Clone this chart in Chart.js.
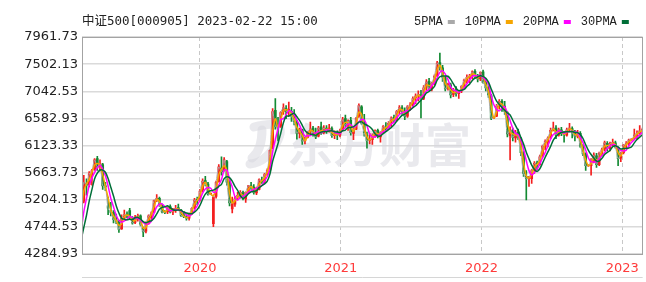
<!DOCTYPE html>
<html>
<head>
<meta charset="utf-8">
<script src="https://cdn.jsdelivr.net/npm/chart.js@4.4.1/dist/chart.umd.min.js"></script>
<style>
  html, body { margin: 0; padding: 0; background: #fff; }
</style>
</head>
<body>
<canvas id="kline" width="646" height="282"></canvas>
<script>
const title = '中证500[000905] 2023-02-22 15:00'
const maNames = ['5PMA', '10PMA', '20PMA', '30PMA']
const maDays = [5, 10, 20, 30]
const maColors = ['#a9a9a9', '#f5a500', '#ff00ff', '#006f38']
const yTicks = [4284.93, 4744.53, 5204.13, 5663.73, 6123.33, 6582.93, 7042.53, 7502.13, 7961.73]
const yearTicks = [2020, 2021, 2022, 2023]
const upColor = '#f41d1d'
const downColor = '#138a33'

// weekly candles [open, high, low, close], one row per week (Mon), first week 2019-01-07
const k2019 = [
  [4100,4200,4050,4180],[4180,4260,4150,4240],[4240,4280,4200,4250],[4250,4270,4100,4200],
  [4200,4210,4190,4200],[4220,4550,4210,4540],[4550,4780,4540,4760],[4900,5250,4880,5200],
  [5180,5620,5150,5500],[5480,5560,5280,5450],[5460,5680,5420,5640],[5620,5720,5450,5700],
  [5720,5900,5700,5880],[5900,5940,5700,5760],[5770,5880,5690,5820],[5800,5820,5380,5440],[5440,5500,5360,5420],
  [5100,5250,4950,5060],[5020,5160,4930,4990],[4990,5020,4810,4870],[4860,4960,4800,4840],
  [4840,4860,4650,4700],[4710,4950,4700,4890],[4900,5030,4880,4950],[4960,5000,4900,4940],
  [5020,5060,4880,4910],[4900,4920,4790,4810],[4820,4940,4800,4890],[4890,4960,4840,4930],[4930,4950,4760,4790],
  [4720,4740,4580,4660],[4670,4830,4640,4800],[4810,4950,4790,4930],[4900,5000,4860,4980],
  [4990,5200,4980,5190],[5200,5290,5170,5230],[5230,5250,5090,5120],[5110,5130,4980,5000],[5000,5020,4970,4990],
  [5000,5090,4970,5080],[5090,5120,4980,5000],[5000,5060,4950,5020],[5030,5110,4990,5060],
  [5070,5130,5020,5040],[5030,5040,4920,4940],[4950,5010,4900,4920],[4920,4950,4860,4890],
  [4890,4980,4860,4960],[4970,5070,4950,5060],[5070,5230,5050,5200],[5210,5250,5120,5190],[5200,5380,5180,5350]
]
const k2020 = [
  [5370,5560,5340,5520],[5530,5600,5440,5480],[5470,5500,5280,5300],[5300,5310,5290,5300],
  [4800,5260,4750,5250],[5260,5520,5230,5500],[5510,5800,5500,5760],[5740,5930,5620,5680],
  [5700,5920,5690,5880],[5850,5870,5450,5500],[5520,5560,5100,5150],[5050,5250,4980,5150],[5130,5260,5090,5220],
  [5250,5330,5200,5280],[5270,5360,5230,5330],[5320,5350,5200,5230],[5220,5340,5160,5330],
  [5340,5450,5320,5440],[5440,5500,5380,5420],[5420,5460,5300,5330],[5320,5420,5290,5400],
  [5380,5560,5370,5540],[5540,5590,5480,5520],[5520,5650,5490,5630],[5640,5730,5620,5700],[5710,6050,5700,6040],
  [6080,6750,6070,6700],[6720,6920,6400,6450],[6500,6600,6200,6420],[6450,6700,6430,6680],
  [6700,6830,6650,6760],[6750,6800,6580,6700],[6720,6860,6620,6720],[6700,6770,6530,6620],[6640,6730,6470,6530],
  [6520,6550,6230,6330],[6330,6420,6250,6390],[6390,6400,6140,6200],[6200,6260,6150,6210],
  [6260,6360,6250,6350],[6360,6520,6320,6400],[6420,6450,6280,6330],[6340,6420,6240,6270],
  [6280,6450,6270,6420],[6440,6520,6310,6330],[6340,6460,6320,6420],[6420,6460,6330,6380],[6400,6480,6350,6400],
  [6410,6440,6260,6290],[6290,6370,6240,6320],[6320,6370,6220,6300],[6300,6400,6270,6370]
]
const k2021 = [
  [6390,6600,6380,6560],[6580,6640,6430,6470],[6460,6560,6380,6540],[6550,6600,6300,6340],
  [6330,6420,6220,6380],[6400,6600,6390,6580],[6620,6830,6600,6800],[6780,6800,6480,6500],
  [6520,6650,6280,6340],[6300,6350,6080,6200],[6210,6330,6150,6230],[6220,6320,6140,6290],[6300,6390,6260,6370],
  [6380,6400,6250,6280],[6270,6360,6180,6340],[6350,6460,6330,6440],[6440,6510,6380,6420],
  [6420,6530,6390,6500],[6500,6610,6440,6590],[6600,6640,6520,6550],[6560,6720,6540,6700],[6700,6800,6660,6760],
  [6760,6800,6650,6700],[6700,6760,6560,6620],[6620,6800,6600,6780],[6790,6850,6720,6800],
  [6810,6950,6790,6920],[6930,7000,6830,6960],[6970,7050,6880,6990],[6980,7060,6590,6900],
  [6920,7140,6900,7100],[7110,7240,7060,7200],[7210,7260,7050,7080],[7080,7200,7050,7180],[7190,7320,7150,7300],
  [7310,7550,7290,7520],[7530,7690,7400,7450],[7440,7480,7210,7280],[7270,7300,7050,7080],
  [7100,7180,7060,7150],[7150,7180,6930,6980],[6990,7090,6950,7060],[7070,7120,6960,7010],
  [7000,7060,6920,7040],[7050,7140,7020,7120],[7130,7250,7100,7230],[7230,7320,7180,7280],[7270,7330,7190,7300],
  [7310,7390,7250,7370],[7380,7410,7260,7280],[7280,7330,7200,7250],[7250,7370,7220,7360]
]
const k2022 = [
  [7370,7400,7180,7210],[7210,7260,7050,7100],[7100,7160,6940,6980],[6970,6990,6560,6590],[6590,6600,6580,6590],
  [6620,6820,6610,6790],[6790,6900,6740,6870],[6870,6900,6700,6780],[6790,6870,6650,6700],
  [6680,6700,6270,6320],[6290,6440,5880,6380],[6390,6420,6200,6260],[6250,6380,6180,6340],
  [6350,6400,6220,6250],[6240,6260,5950,6000],[6000,6020,5600,5650],[5600,5700,5200,5560],
  [5560,5600,5430,5580],[5560,5720,5480,5700],[5700,5850,5650,5820],[5830,5860,5720,5790],[5800,5960,5790,5930],
  [5950,6130,5940,6110],[6100,6220,6050,6190],[6180,6270,6100,6250],[6260,6420,6240,6380],
  [6390,6520,6370,6420],[6420,6460,6240,6300],[6300,6420,6280,6390],[6390,6430,6290,6330],
  [6320,6360,6180,6300],[6300,6420,6280,6390],[6400,6500,6360,6420],[6410,6440,6250,6340],[6330,6380,6200,6280],
  [6280,6380,6250,6320],[6330,6360,6090,6110],[6100,6140,5950,5980],[5980,6000,5700,5780],
  [5780,5790,5770,5780],[5780,5900,5620,5850],[5850,6000,5830,5960],[5950,5990,5750,5800],[5800,6010,5780,5990],
  [5990,6080,5950,6050],[6060,6200,6030,6170],[6160,6190,6030,6080],[6070,6180,6030,6150],
  [6160,6230,6110,6170],[6170,6200,6080,6100],[6090,6100,5780,5900],[5910,6010,5850,5990]
]
const k2023 = [
  [6000,6140,5980,6130],[6140,6190,6080,6150],[6150,6230,6110,6220],[6220,6230,6210,6220],[6240,6400,6230,6300],
  [6290,6370,6230,6330],[6330,6460,6300,6370],[6380,6420,6320,6390]
]

const weeks = [...k2019, ...k2020, ...k2021, ...k2022, ...k2023]
const closes = weeks.map(k => k[3])

// each candle sits at the Wednesday of its week, as a fractional year
const weekX = weeks.map((_, i) => {
  const d = Date.UTC(2019, 0, 9) + i * 7 * 864e5
  const yr = new Date(d).getUTCFullYear()
  const y0 = Date.UTC(yr, 0, 1), y1 = Date.UTC(yr + 1, 0, 1)
  return yr + (d - y0) / (y1 - y0)
})

function movingAverage(vals, n) {
  return vals.map((v, i) => {
    if (i < n - 1) return null
    let s = 0
    for (let j = i - n + 1; j <= i; j++) s += vals[j]
    return s / n
  })
}

const candleColors = weeks.map(k => k[3] >= k[0] ? upColor : downColor)

const maSets = maNames.map((name, m) => {
  const avg = movingAverage(closes, maDays[m] / 5)
  return {
    type: 'line',
    label: name,
    data: avg.map((v, i) => ({ x: weekX[i], y: v })),
    borderColor: maColors[m],
    borderWidth: m === 0 ? 1 : 1.5,
    pointRadius: 0,
    tension: 0.3,
    spanGaps: false,
    order: 4 - m
  }
})

const decor = {
  id: 'decor',
  beforeDatasetsDraw(chart) {
    const ctx = chart.ctx
    ctx.save()
    ctx.fillStyle = 'rgba(215, 215, 222, 0.55)'
    ctx.strokeStyle = 'rgba(215, 215, 222, 0.55)'
    ctx.font = 'bold 46px "Noto Sans CJK SC"'
    ctx.textBaseline = 'middle'
    ctx.fillText('东方财富', 287, 145)
    // logo swirl
    ctx.lineWidth = 9
    ctx.lineCap = 'round'
    ctx.beginPath()
    ctx.moveTo(254, 127)
    ctx.quadraticCurveTo(288, 118, 278, 140)
    ctx.quadraticCurveTo(268, 162, 250, 164)
    ctx.stroke()
    ctx.beginPath()
    ctx.moveTo(262, 130)
    ctx.quadraticCurveTo(262, 150, 252, 158)
    ctx.stroke()
    ctx.restore()
  },
  afterDraw(chart) {
    const ctx = chart.ctx
    const a = chart.chartArea
    ctx.save()
    ctx.strokeStyle = '#a3a3a3'
    ctx.lineWidth = 1
    ctx.strokeRect(Math.round(a.left) + 0.5, Math.round(a.top) + 0.5,
      Math.round(a.right - a.left) - 1, Math.round(a.bottom - a.top))
    ctx.strokeStyle = '#d6d6d6'
    ctx.beginPath()
    ctx.moveTo(a.left, 277.5)
    ctx.lineTo(a.right, 277.5)
    ctx.stroke()

    ctx.textBaseline = 'middle'
    ctx.fillStyle = '#222'
    ctx.font = '12.5px "DejaVu Sans Mono", "Noto Sans CJK SC"'
    ctx.fillText(title, 82, 22)

    ctx.font = '12px "Liberation Mono"'
    let x = 414
    maNames.forEach((name, m) => {
      ctx.fillStyle = '#222'
      ctx.fillText(name, x, 22)
      x += ctx.measureText(name).width + 5
      ctx.fillStyle = maColors[m]
      ctx.fillRect(x, 20, 7, 4)
      x += 7 + 10
    })
    ctx.restore()
  }
}

new Chart(document.getElementById('kline'), {
  data: {
    datasets: [
      {
        type: 'bar',
        label: 'range',
        data: weeks.map((k, i) => ({ x: weekX[i], y: [k[2], k[1]] })),
        backgroundColor: candleColors,
        barThickness: 1,
        grouped: false,
        order: 11
      },
      {
        type: 'bar',
        label: 'body',
        data: weeks.map((k, i) => ({ x: weekX[i], y: [k[0], k[3]] })),
        backgroundColor: candleColors,
        barThickness: 2,
        minBarLength: 1,
        grouped: false,
        order: 10
      },
      ...maSets
    ]
  },
  options: {
    responsive: false,
    animation: false,
    layout: { padding: { top: 37, right: 3, left: 0, bottom: 0 } },
    plugins: { legend: { display: false }, tooltip: { enabled: false } },
    scales: {
      x: {
        type: 'linear',
        offset: false,
        min: 2019.1625,
        max: 2023.144,
        afterBuildTicks: s => { s.ticks = yearTicks.map(v => ({ value: v })) },
        afterFit: s => { s.height = 28 },
        ticks: {
          color: '#ff3b3b',
          font: { family: 'DejaVu Sans', size: 13 },
          padding: 7,
          maxRotation: 0,
          autoSkip: false,
          callback: v => String(v)
        },
        grid: { offset: false, color: '#c8c8c8', lineWidth: 1, drawTicks: false },
        border: { display: false, dash: [4, 3] }
      },
      y: {
        type: 'linear',
        min: yTicks[0],
        max: yTicks[yTicks.length - 1],
        afterBuildTicks: s => { s.ticks = yTicks.map(v => ({ value: v })) },
        afterFit: s => { s.width = 82 },
        ticks: {
          color: '#222',
          font: { family: 'DejaVu Sans', size: 13 },
          padding: 4,
          callback: v => v.toFixed(2)
        },
        grid: { color: '#dadada', lineWidth: 1.5, drawTicks: false },
        border: { display: false }
      }
    }
  },
  plugins: [decor]
})
</script>
</body>
</html>
